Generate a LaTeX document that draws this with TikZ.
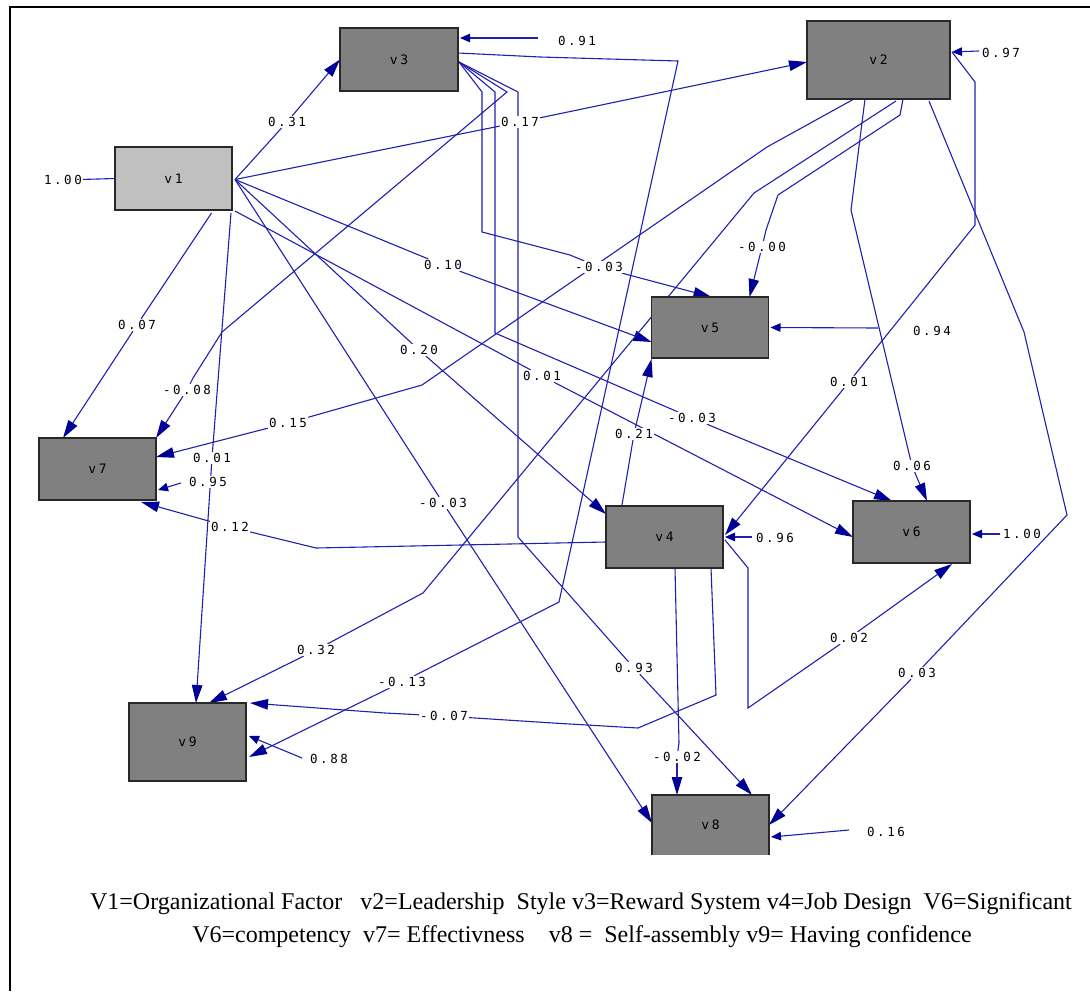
\documentclass[tikz,border=0pt]{standalone}
\usepackage{fontspec}
\setmainfont{Liberation Serif}
\newfontfamily\lblfont[LetterSpace=20]{DejaVu Sans Mono}
\usetikzlibrary{arrows.meta,calc}
\definecolor{lineblue}{RGB}{32,32,176}
\definecolor{headblue}{RGB}{0,0,150}
\definecolor{boxgray}{RGB}{128,128,128}
\definecolor{lightbox}{RGB}{192,192,192}
\definecolor{boxline}{RGB}{40,40,40}
\pgfdeclarelayer{back}
\pgfdeclarelayer{bg}
\pgfsetlayers{back,bg,main}
\tikzset{
  varbox/.style={draw=boxline, line width=1.4pt, fill=boxgray, minimum width=117pt,
    minimum height=62pt, inner sep=0pt, outer sep=0pt,
    font=\lblfont\fontsize{13}{13}\selectfont, text=black},
  coef/.style={fill=white, inner sep=1.2pt, font=\lblfont\fontsize{12.5}{12.5}\selectfont, text=black},
  link/.style={draw=lineblue, line width=1.1pt},
  arr/.style={link, -{Triangle[length=18pt,width=10.5pt,color=headblue,fill=headblue]}},
  res/.style={link, -{Triangle[length=10pt,width=8.5pt,color=headblue,fill=headblue]}},
  legend/.style={anchor=base, inner sep=0pt, font=\fontsize{24}{24}\selectfont, text=black}
}
\begin{document}
\begin{tikzpicture}[x=1pt,y=-1pt]
\useasboundingbox (0,0) rectangle (1090,991);
\begin{pgfonlayer}{back}
\fill[white] (0,0) rectangle (1090,991);
\end{pgfonlayer}
\draw[line width=2pt, black] (10,991) -- (10,7) -- (1090,7);

% variables
\node[varbox, fill=lightbox, minimum height=63pt] (v1) at (173.5,178.5) {v1};
\node[varbox, minimum height=63pt, minimum width=118pt] (v3) at (399,59.5) {v3};
\node[varbox, minimum width=143pt, minimum height=78pt] (v2) at (878.5,60) {v2};
\node[varbox, minimum height=61pt] (v5) at (710,327.5) {v5};
\node[varbox] (v7) at (97.5,469) {v7};
\node[varbox] (v4) at (664.5,537) {v4};
\node[varbox] (v6) at (911.5,532) {v6};
\node[varbox, minimum height=78pt] (v9) at (187.5,742) {v9};
\node[varbox, draw=none, minimum height=60pt] (v8) at (710.5,825) {v8};
\draw[boxline, line width=1.4pt] (v8.south west) -- (v8.north west) -- (v8.north east) -- (v8.south east);

% coefficients
\node[coef] (l0) at (63,180) {1.00};
\node[coef] (l13) at (287,122) {0.31};
\node[coef] (l12) at (520,122) {0.17};
\node[coef] (l15) at (443,265) {0.10};
\node[coef] (l14) at (419,350) {0.20};
\node[coef] (l18) at (443,503) {-0.03};
\node[coef] (l16) at (542,376) {0.01};
\node[coef] (l17) at (137,325) {0.07};
\node[coef] (l19) at (212,458) {0.01};
\node[coef] (l35) at (599,267) {-0.03};
\node[coef] (l36) at (692,418) {-0.03};
\node[coef] (l37) at (187,390) {-0.08};
\node[coef] (l38) at (634,668) {0.93};
\node[coef] (l39) at (402,682) {-0.13};
\node[coef] (l24) at (849,382) {0.01};
\node[coef] (l27) at (288,423) {0.15};
\node[coef] (l26) at (912,466) {0.06};
\node[coef] (l29) at (316,650) {0.32};
\node[coef] (l25) at (762,247) {-0.00};
\node[coef] (l28) at (917,673) {0.03};
\node[coef] (l45) at (634,434) {0.21};
\node[coef] (l47) at (230,527) {0.12};
\node[coef] (l48) at (677,757) {-0.02};
\node[coef] (l49) at (444,716) {-0.07};
\node[coef] (l46) at (849,638) {0.02};
\node[coef] (q3) at (577,41) {0.91};
\node[coef] (q2) at (1001,53) {0.97};
\node[coef] (q5) at (932,331) {0.94};
\node[coef] (q4) at (775,538) {0.96};
\node[coef] (q6) at (1022,534) {1.00};
\node[coef] (q7) at (208,482) {0.95};
\node[coef] (q8) at (886,832) {0.16};
\node[coef] (q9) at (329,759) {0.88};

% legend
\node[legend] (leg1) at (581,909) {V1=Organizational Factor~~~v2=Leadership~~Style v3=Reward System v4=Job Design~~V6=Significant};
\node[legend] (leg2) at (582,942) {V6=competency~~v7= Effectivness~~~~v8 =~~Self-assembly v9= Having confidence};

\begin{pgfonlayer}{bg}
% from v1
\coordinate (f1) at ($(v1.east)+(3,1)$);
\draw[link] (f1) -- (l13); \draw[arr] (l13) -- (v3.west);
\draw[link] (f1) -- (l12); \draw[arr] (l12) -- ($(v2.west)+(0,2)$);
\draw[link] (f1) -- (l15); \draw[arr] (l15) -- ($(v5.south west)+(0,-16)$);
\draw[link] (f1) -- (l14); \draw[arr] (l14) -- ($(v4.north west)+(0,8)$);
\draw[link] (f1) -- (l18); \draw[arr] (l18) -- ($(v8.west)+(0,-2)$);
\draw[link] ($(v1.south east)+(3,1)$) -- (l16); \draw[arr] (l16) -- ($(v6.west)+(0,5)$);
\draw[link] ($(v1.south)+(38,3)$) -- (l17); \draw[arr] (l17) -- ($(v7.north west)+(24,0)$);
\draw[link] ($(v1.south east)+(-1,3)$) -- (l19); \draw[arr] (l19) -- ($(v9.north west)+(67,0)$);
\draw[link] (l0) -- (v1.west);

% from v3
\coordinate (f3) at ($(v3.east)+(1,2.5)$);
\draw[link] (f3) -- (482,92) -- (482,232) -- (570,255) -- (l35); \draw[arr] (l35) -- ($(v5.north west)+(60,0)$);
\draw[link] (f3) -- (495,92) -- (495,333) -- (l36); \draw[arr] (l36) -- ($(v6.north west)+(39,0)$);
\draw[link] (f3) -- (507,92) -- (222,332) -- (193,378) -- (l37); \draw[arr] (l37) -- (v7.north east);
\draw[link] (f3) -- (518,92) -- (518,537) -- (l38); \draw[arr] (l38) -- ($(v8.north west)+(100,0)$);
\draw[link] ($(v3.east)+(0,-6.5)$) -- (540,57) -- (678,61) -- (559,602) -- (l39); \draw[arr] (l39) -- ($(v9.east)+(3,15)$);

% from v2
\draw[link] ($(v2.east)+(2,-8)$) -- (975,82) -- (975,225) -- (l24); \draw[arr] (l24) -- ($(v4.east)+(2,-2)$);
\draw[link] ($(v2.south west)+(47,0)$) -- (767,147) -- (422,385) -- (l27); \draw[arr] (l27) -- ($(v7.east)+(0,-12)$);
\draw[link] ($(v2.south west)+(58,0)$) -- (851,210) -- (l26); \draw[arr] (l26) -- ($(v6.north west)+(74,0)$);
\draw[link] ($(v2.south west)+(89,2)$) -- (754,193) -- (423,593) -- (l29); \draw[arr] (l29) -- ($(v9.north west)+(80,0)$);
\draw[link] ($(v2.south west)+(96,0)$) -- (900,115) -- (778,195) -- (766,230) -- (l25); \draw[arr] (l25) -- ($(v5.north west)+(98,0)$);
\draw[link] ($(v2.south west)+(122,2)$) -- (1024,332) -- (1067,515) -- (l28); \draw[arr] (l28) -- (v8.east);

% from v4
\draw[link] ($(v4.north west)+(16,-1)$) -- (l45); \draw[arr] (l45) -- ($(v5.south west)+(0,1)$);
\draw[link] ($(v4.west)+(0,5)$) -- (316,548) -- (l47); \draw[arr] (l47) -- ($(v7.south east)+(-15,2)$);
\draw[link] ($(v4.south west)+(69,0)$) -- (679,743) -- (l48); \draw[arr] (l48) -- ($(v8.north west)+(25,0)$);
\draw[link] ($(v4.south west)+(105,0)$) -- (716,695) -- (638,728) -- (553,723) -- (l49); \draw[arr] (l49) -- (385,713) -- ($(v9.north east)+(4,0)$);
\draw[link] ($(v4.east)+(2,3)$) -- (748,568) -- (748,708) -- (l46); \draw[arr] (l46) -- ($(v6.south east)+(-18,1)$);

% residuals
\coordinate (r3) at (538,38); \draw[res] (r3) -- ($(v3.north east)+(2,10)$);
\coordinate (r2) at (979,51); \draw[res] (r2) -- ($(v2.east)+(2,-8)$);
\coordinate (r5) at (878,328); \draw[res] (r5) -- ($(v5.east)+(2,0)$);
\coordinate (r4) at (752,537); \draw[res] (r4) -- ($(v4.east)+(2,0)$);
\coordinate (r6) at (1000,534); \draw[res] (r6) -- ($(v6.east)+(2,2)$);
\coordinate (r7) at (181,483); \draw[res] (r7) -- ($(v7.east)+(2,21)$);
\coordinate (r8) at (849,830); \draw[res] (r8) -- ($(v8.east)+(2,12)$);
\coordinate (r9) at (302,758); \draw[res] (r9) -- ($(v9.east)+(3,-6)$);
\end{pgfonlayer}
\end{tikzpicture}
\end{document}
